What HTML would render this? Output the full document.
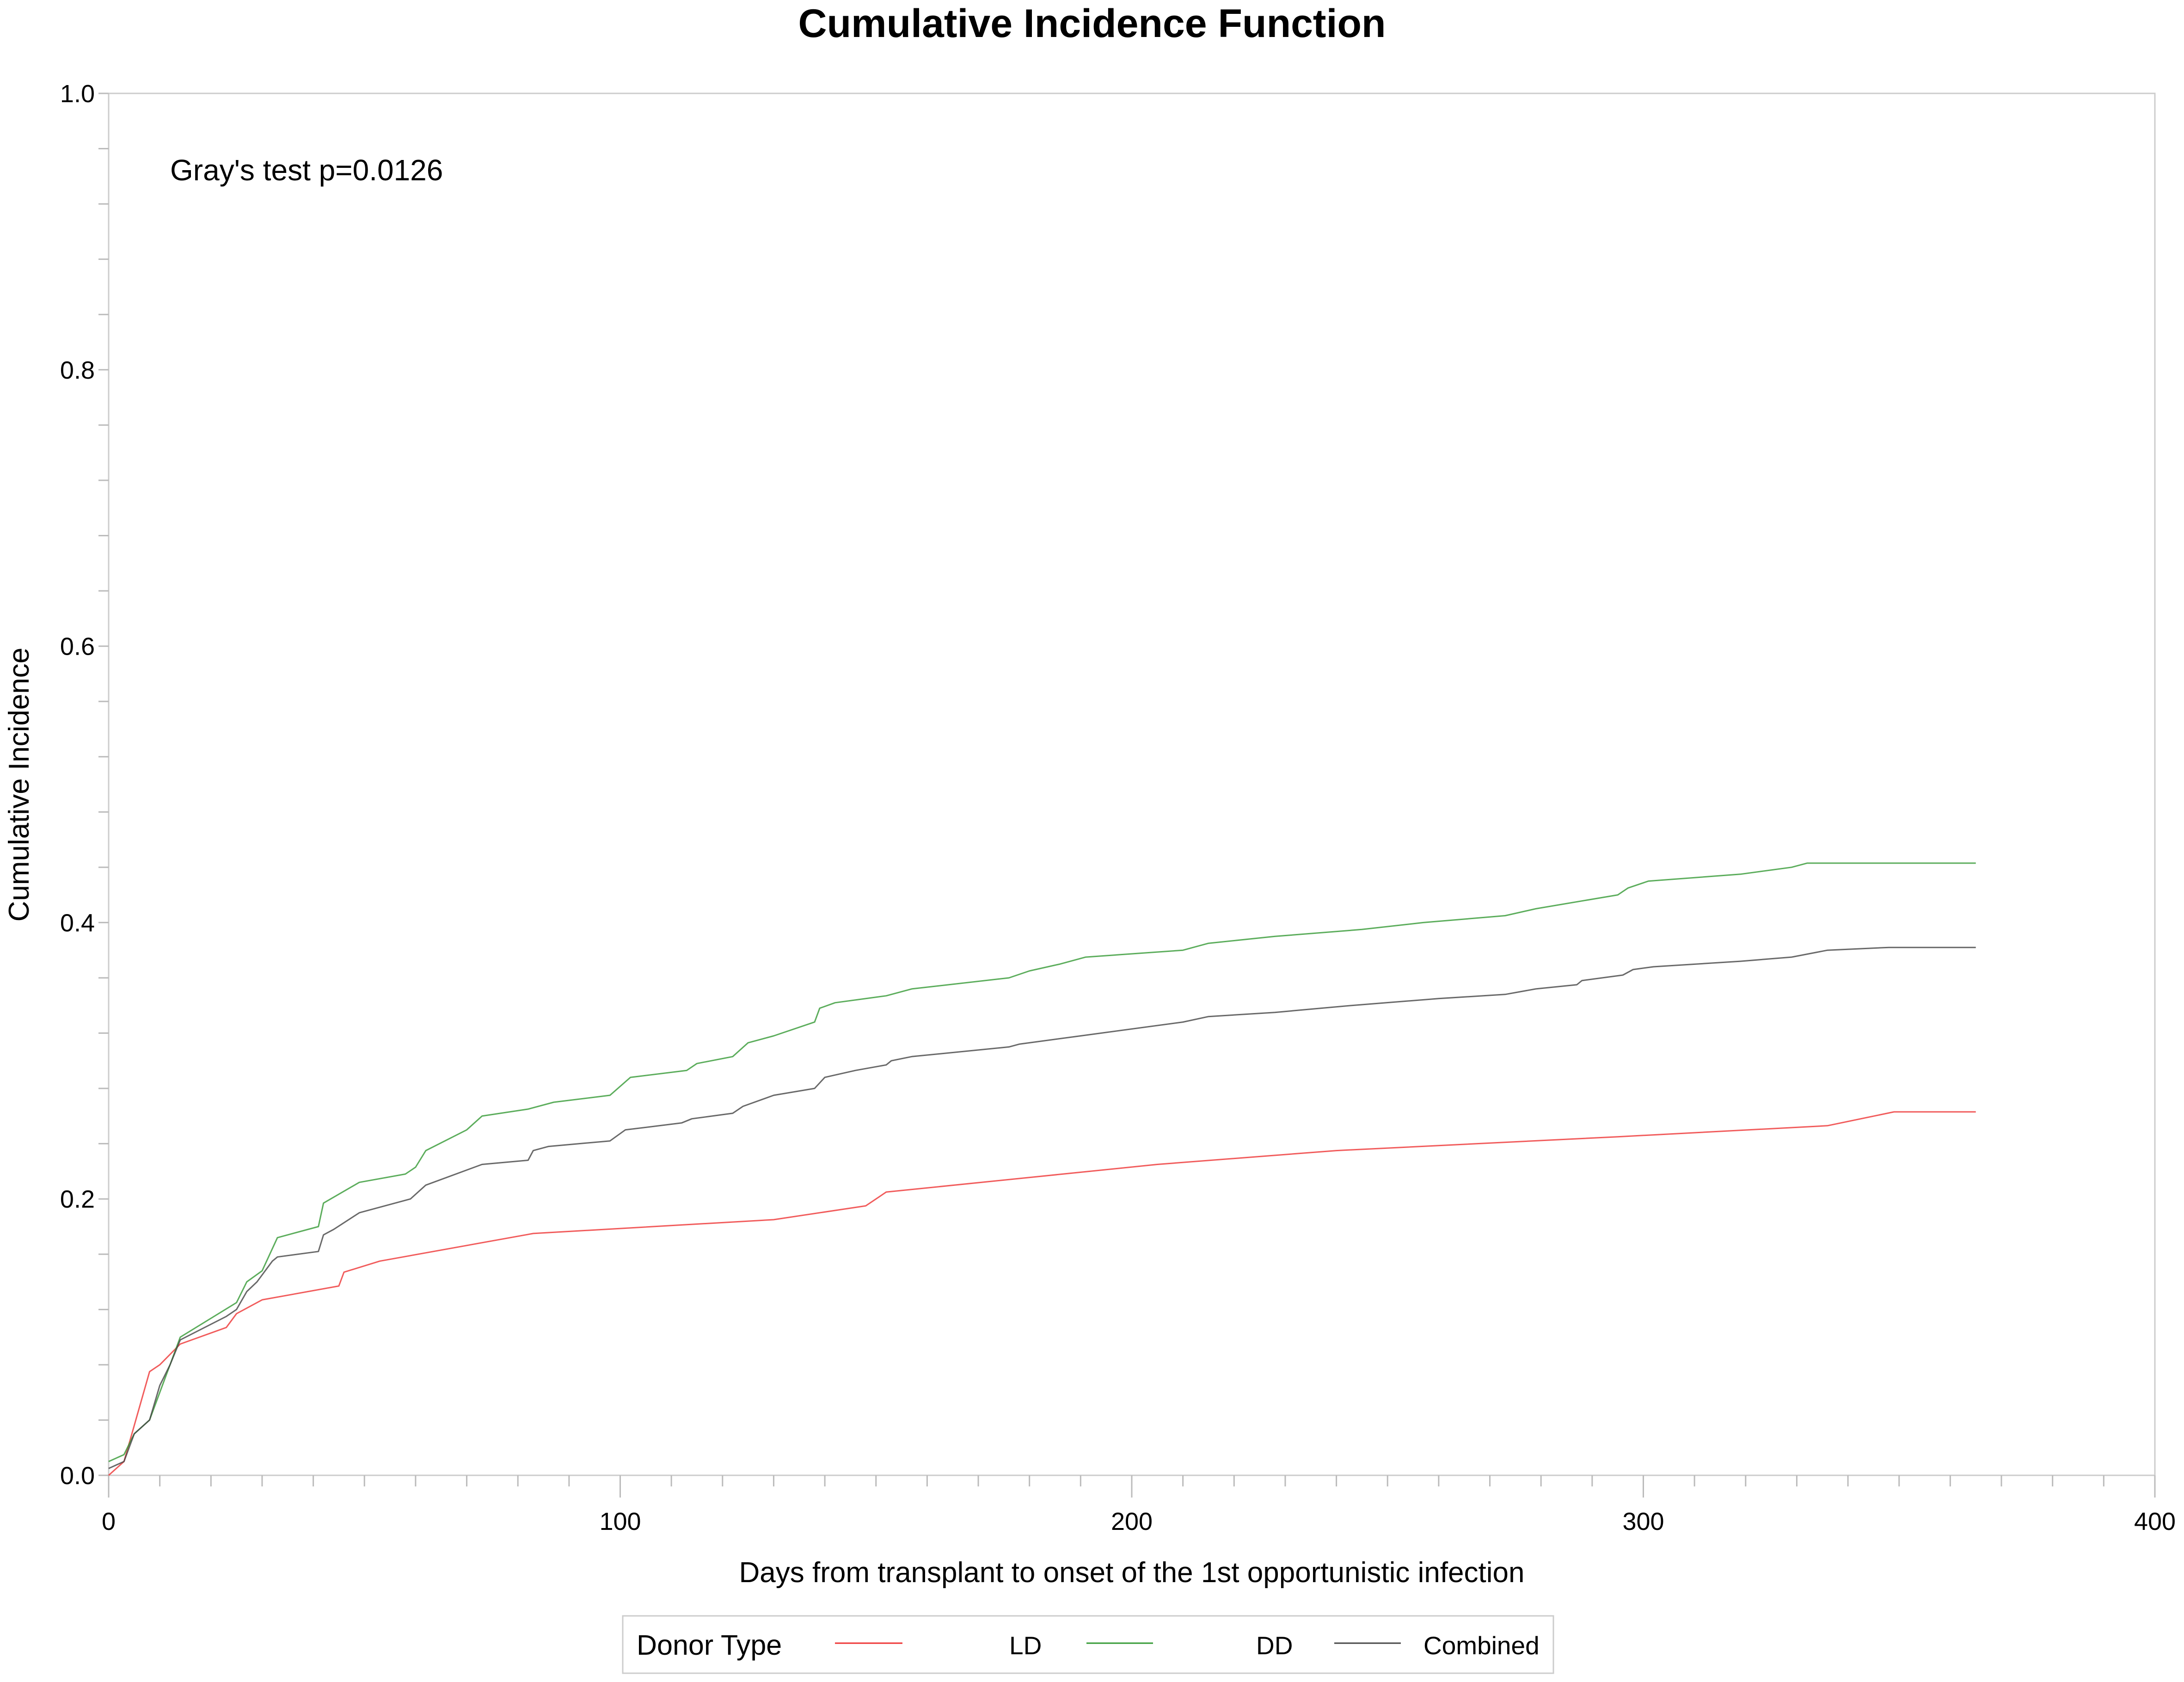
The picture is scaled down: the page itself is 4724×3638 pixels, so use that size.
<!DOCTYPE html>
<html><head><meta charset="utf-8"><style>
html,body{margin:0;padding:0;background:#fff}
svg{display:block}
text{font-family:"Liberation Sans",sans-serif;fill:#000}
</style></head><body>
<svg id="chart" width="4724" height="3638" viewBox="0 0 4724 3638" xmlns="http://www.w3.org/2000/svg">
<text x="2362" y="80" text-anchor="middle" font-size="86" font-weight="bold">Cumulative Incidence Function</text>
<g id="axes"></g>
<g id="series"></g>
<text x="368" y="390" font-size="64">Gray's test p=0.0126</text>
<text transform="translate(62,1697) rotate(-90)" text-anchor="middle" font-size="62">Cumulative Incidence</text>
<text x="2448" y="3422" text-anchor="middle" font-size="62">Days from transplant to onset of the 1st opportunistic infection</text>
<g>
<rect x="1347" y="3495" width="2013" height="124" fill="#fff" stroke="#ccc" stroke-width="3"/>
<text x="1377" y="3579" font-size="61">Donor Type</text>
<line x1="1806" y1="3554" x2="1952" y2="3554" stroke="#e33" stroke-width="3"/>
<text x="2183" y="3578" font-size="55">LD</text>
<line x1="2350" y1="3554" x2="2494" y2="3554" stroke="#393" stroke-width="3"/>
<text x="2717" y="3578" font-size="55">DD</text>
<line x1="2886" y1="3554" x2="3030" y2="3554" stroke="#444" stroke-width="3"/>
<text x="3079" y="3578" font-size="55">Combined</text>
</g>
</svg>
<script>
const xTicks = [0,100,200,300,400];
const yTicks = [0.0,0.2,0.4,0.6,0.8,1.0];
const yTickLabels = ["0.0","0.2","0.4","0.6","0.8","1.0"];
const ldDays = [0,3,8,10,14,23,25,30,45,46,53,83,130,148,152,205,240,295,336,349,365];
const ldVals = [0,0.01,0.075,0.08,0.095,0.107,0.117,0.127,0.137,0.147,0.155,0.175,0.185,0.195,0.205,0.225,0.235,0.245,0.253,0.263,0.263];
const ddDays = [0,3,5,8,10,12,14,25,27,30,33,41,42,49,58,60,62,70,73,82,87,98,102,113,115,122,125,130,138,139,142,152,157,176,180,186,191,210,215,228,245,257,273,279,295,297,301,319,329,332,365];
const ddVals = [0.01,0.015,0.03,0.04,0.06,0.08,0.1,0.125,0.14,0.148,0.172,0.18,0.197,0.212,0.218,0.223,0.235,0.25,0.26,0.265,0.27,0.275,0.288,0.293,0.298,0.303,0.313,0.318,0.328,0.338,0.342,0.347,0.352,0.36,0.365,0.37,0.375,0.38,0.385,0.39,0.395,0.4,0.405,0.41,0.42,0.425,0.43,0.435,0.44,0.443,0.443];
const cbDays = [0,3,5,8,10,12,14,23,25,27,29,32,33,41,42,44,49,59,62,73,82,83,86,98,101,112,114,122,124,130,138,140,146,152,153,157,176,178,190,210,215,228,243,260,273,279,287,288,296,298,302,319,329,336,348,365];
const cbVals = [0.005,0.01,0.03,0.04,0.065,0.08,0.098,0.115,0.12,0.133,0.14,0.155,0.158,0.162,0.174,0.178,0.19,0.2,0.21,0.225,0.228,0.235,0.238,0.242,0.25,0.255,0.258,0.262,0.267,0.275,0.28,0.288,0.293,0.297,0.3,0.303,0.31,0.312,0.318,0.328,0.332,0.335,0.34,0.345,0.348,0.352,0.355,0.358,0.362,0.366,0.368,0.372,0.375,0.38,0.382,0.382];

const L=235,R=4661,T=202,B=3191;
function xs(d){return L+(d/400)*(R-L);}
function ys(v){return B-v*(B-T);}
const NS="http://www.w3.org/2000/svg";
const axes=document.getElementById('axes');
function mk(tag,attrs,parent){const e=document.createElementNS(NS,tag);for(const k in attrs)e.setAttribute(k,attrs[k]);parent.appendChild(e);return e;}

const frame=mk('rect',{x:L,y:T,width:R-L,height:B-T,fill:'none',stroke:'#ccc','stroke-width':3},axes);



for(let d=0;d<=400;d+=10){
  const major=d%100===0;
  const t=mk('line',{x1:xs(d),x2:xs(d),y1:B,y2:B+(major?48:24),stroke:'#bbb','stroke-width':3},axes);
  
  
}
xTicks.forEach(v=>{
  const t=mk('text',{x:xs(v),y:B+118,'text-anchor':'middle','font-size':54},axes);
  t.textContent=String(v);
  
  
});
for(let i=0;i<=25;i++){
  const v=i*0.04;
  const t=mk('line',{x1:L-22,x2:L,y1:ys(v),y2:ys(v),stroke:'#bbb','stroke-width':3},axes);
  
  
}
yTicks.forEach((v,i)=>{
  const t=mk('text',{x:L-30,y:ys(v)+19,'text-anchor':'end','font-size':54},axes);
  t.textContent=yTickLabels[i];
  
  
});

const sg=document.getElementById('series');
function drawSeries(days,vals,color,name){
  const pts=days.map((d,i)=>xs(d).toFixed(1)+','+ys(vals[i]).toFixed(1)).join(' ');
  const p=mk('polyline',{points:pts,fill:'none',stroke:color,'stroke-width':3,'stroke-linejoin':'round','stroke-opacity':0.8},sg);
  
  
}
drawSeries(ldDays,ldVals,'#e33','series-ld');
drawSeries(ddDays,ddVals,'#393','series-dd');
drawSeries(cbDays,cbVals,'#444','series-combined');
</script>
</body></html>
